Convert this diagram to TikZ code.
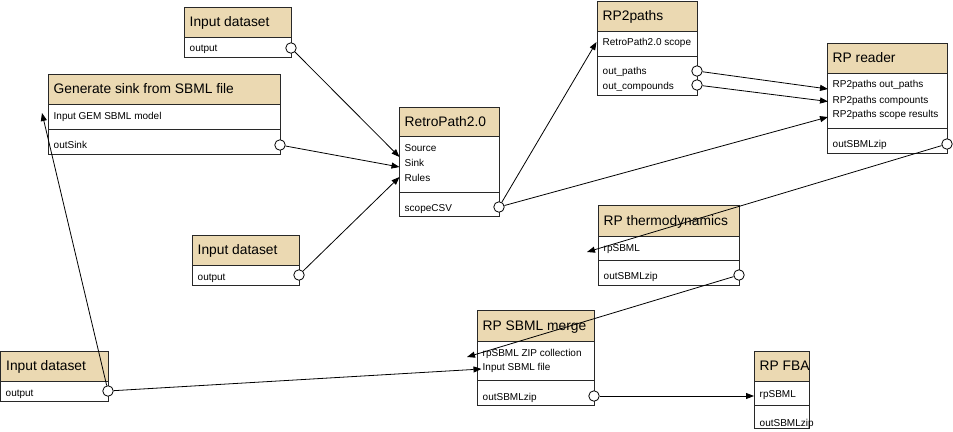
\documentclass[tikz,border=0pt]{standalone}
\usepackage{fontspec}
\setmainfont{Liberation Sans}
\usetikzlibrary{arrows.meta}
\definecolor{headtan}{RGB}{235,217,178}
\definecolor{boxgray}{RGB}{40,40,40}
\tikzset{
  boxline/.style={draw=boxgray, line width=0.9pt},
  ttl/.style={anchor=west, inner sep=0pt, text height=9.9pt, text depth=0pt, font=\fontsize{13.8}{16}\selectfont},
  lbl/.style={anchor=west, inner sep=0pt, text height=7.2pt, text depth=0pt, font=\fontsize{10}{12}\selectfont},
  port/.style={circle, draw=black, fill=white, minimum size=10.5pt, inner sep=0pt, line width=0.8pt},
  conn/.style={-{Triangle[length=8pt,width=6pt]}, line width=0.8pt, black, shorten >=0pt},
}
% name, x1, y1, x2, y2, header bottom, separator, title
\newcommand\wfbox[8]{%
  \draw[boxline, fill=white] (#2,#3) rectangle (#4,#5);
  \draw[boxline, fill=headtan] (#2,#3) rectangle (#4,#6);
  \draw[boxline] (#2,#7) -- (#4,#7);
  \node[ttl] (#1) at ({#2+5.5},{(#3+#6)/2}) {#8};
}
\begin{document}
\begin{tikzpicture}[x=1pt,y=-1pt]
\useasboundingbox (0,0) rectangle (953,431);

% boxes
\wfbox{idA}{184}{7}{291}{57}{37}{37}{Input dataset}
\wfbox{gs}{48}{74}{280}{154}{104}{129}{Generate sink from SBML file}
\wfbox{rp}{399}{107}{499}{216}{136}{192}{RetroPath2.0}
\wfbox{rpp}{597}{1}{697}{95}{31}{56}{RP2paths}
\wfbox{rdr}{827}{43}{947}{153}{73}{128}{RP reader}
\wfbox{thr}{598}{205}{739}{285}{236}{260}{RP thermodynamics}
\wfbox{mrg}{477}{310}{594}{405}{341}{380}{RP SBML merge}
\wfbox{fba}{754}{351}{809}{428}{381}{405}{RP FBA}
\wfbox{idB}{192}{235}{299}{285}{265}{265}{Input dataset}
\wfbox{idC}{0.5}{351}{108}{401}{381}{381}{Input dataset}

% row labels
\node[lbl] (idA-o) at (189.5,48) {output};
\node[lbl] (gs-i) at (53.5,116) {Input GEM SBML model};
\node[lbl] (gs-o) at (53.5,145) {outSink};
\node[lbl] (rp-i1) at (404.5,148) {Source};
\node[lbl] (rp-i2) at (404.5,163) {Sink};
\node[lbl] (rp-i3) at (404.5,178) {Rules};
\node[lbl] (rp-o) at (404.5,207.5) {scopeCSV};
\node[lbl] (rpp-i) at (602.5,42) {RetroPath2.0 scope};
\node[lbl] (rpp-o1) at (602.5,71) {out\_paths};
\node[lbl] (rpp-o2) at (602.5,86) {out\_compounds};
\node[lbl] (rdr-i1) at (832.5,84) {RP2paths out\_paths};
\node[lbl] (rdr-i2) at (832.5,99.5) {RP2paths compounts};
\node[lbl] (rdr-i3) at (832.5,114) {RP2paths scope results};
\node[lbl] (rdr-o) at (832.5,144) {outSBMLzip};
\node[lbl] (thr-i) at (603.5,248) {rpSBML};
\node[lbl] (thr-o) at (603.5,276) {outSBMLzip};
\node[lbl] (mrg-i1) at (482.5,352.5) {rpSBML ZIP collection};
\node[lbl] (mrg-i2) at (482.5,367) {Input SBML file};
\node[lbl] (mrg-o) at (482.5,397) {outSBMLzip};
\node[lbl] (fba-i) at (759.5,394) {rpSBML};
\node[lbl] (fba-o) at (759.5,423) {outSBMLzip};
\node[lbl] (idB-o) at (197.5,277) {output};
\node[lbl] (idC-o) at (5.5,392.5) {output};

% output ports
\node[port] (pA) at (291,48) {};
\node[port] (pGS) at (280,145) {};
\node[port] (pRP) at (499,207) {};
\node[port] (pRPP1) at (697,71) {};
\node[port] (pRPP2) at (697,85) {};
\node[port] (pRDR) at (947,144) {};
\node[port] (pTHR) at (739,275) {};
\node[port] (pMRG) at (594,396) {};
\node[port] (pB) at (299,275) {};
\node[port] (pC) at (108,391) {};

% input targets
\coordinate (tSrc) at (399.5,157);
\coordinate (tSink) at (399.5,167);
\coordinate (tRules) at (399.5,177);
\coordinate (tRPP) at (596.5,42);
\coordinate (tR1) at (828,89);
\coordinate (tR2) at (828,101.5);
\coordinate (tR3) at (828,117);
\coordinate (tTHR) at (587,252);
\coordinate (tM1) at (467,357);
\coordinate (tM2) at (481.5,369);
\coordinate (tFBA) at (754,396);
\coordinate (tGS) at (42,113);

% connectors
\draw[conn] (pA) -- (tSrc);
\draw[conn] (pGS) -- (tSink);
\draw[conn] (pB) -- (tRules);
\draw[conn] (pRP) -- (tRPP);
\draw[conn] (pRP) -- (tR3);
\draw[conn] (pRPP1) -- (tR1);
\draw[conn] (pRPP2) -- (tR2);
\draw[conn] (pRDR) -- (tTHR);
\draw[conn] (pTHR) -- (tM1);
\draw[conn] (pMRG) -- (tFBA);
\draw[conn] (pC) -- (tGS);
\draw[conn] (pC) -- (tM2);
\end{tikzpicture}
\end{document}
